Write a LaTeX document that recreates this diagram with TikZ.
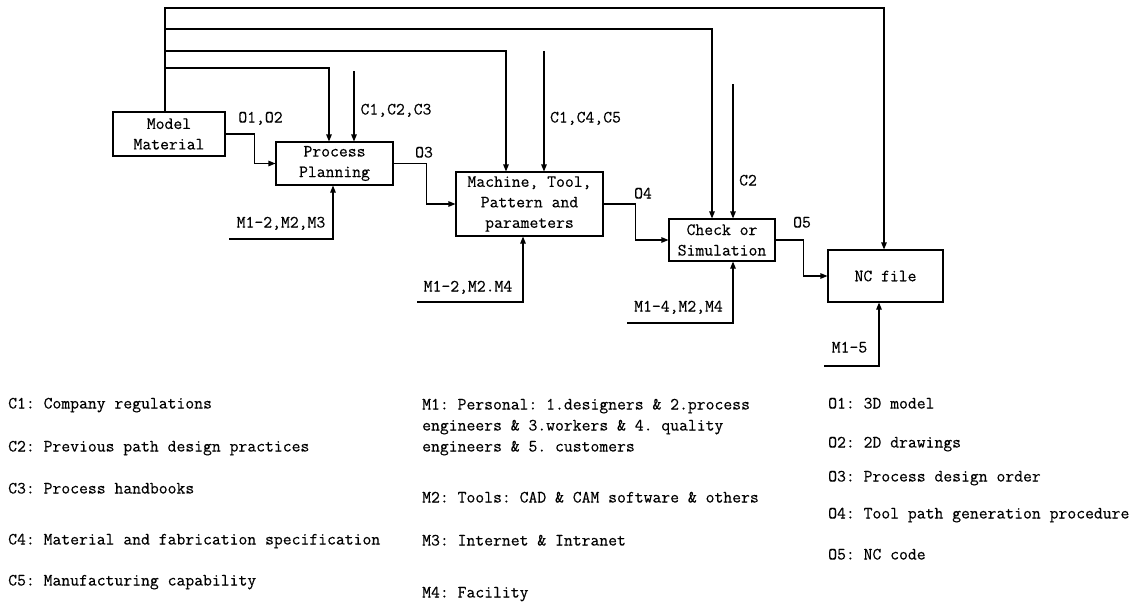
\documentclass[tikz,border=0pt]{standalone}
\usepackage{fontspec}
\setmonofont{Latin Modern Mono}[FakeBold=0.35]
\usetikzlibrary{arrows.meta}
\frenchspacing
\begin{document}
\begin{tikzpicture}[x=1pt,y=-1pt,
  txt/.style={font=\fontsize{17.2}{20.5}\selectfont\ttfamily},
  box/.style={txt,draw,line width=1.1pt,inner sep=0pt,align=center},
  arr/.style={line width=1.1pt,-{Triangle[length=7pt,width=5.5pt]}},
  lbl/.style={txt,inner sep=0pt,anchor=base},
  leg/.style={txt,inner sep=0pt,anchor=base west}]
\useasboundingbox (0,0) rectangle (1137,602);
% boxes
\node[box,minimum width=112pt,minimum height=44pt] (mm) at (169,134) {Model\\Material};
\node[box,minimum width=117pt,minimum height=43pt] (pp) at (334.5,163.5) {Process\\Planning};
\node[box,minimum width=147pt,minimum height=64pt] (mt) at (529.5,204) {Machine, Tool,\\Pattern and\\parameters};
\node[box,minimum width=106pt,minimum height=42pt] (ck) at (722,240) {Check or\\Simulation};
\node[box,minimum width=115pt,minimum height=52pt] (nc) at (885.5,276) {NC file};
% trunk and branches
\coordinate (t0) at (165,8);
\coordinate (b1) at (165,29);
\coordinate (b2) at (165,51);
\coordinate (b3) at (165,68);
\draw[arr] ([xshift=-4pt]mm.north) -- (t0) -| ([xshift=-1.5pt]nc.north);
\draw[arr] (b1) -| ([xshift=-10pt]ck.north);
\draw[arr] (b2) -| ([xshift=-23.5pt]mt.north);
\draw[arr] (b3) -| ([xshift=-5.5pt]pp.north);
% controls
\coordinate (c1) at (354,71);
\coordinate (c2) at (544,51);
\coordinate (c3) at (733,84);
\draw[arr] (c1) -- (c1 |- pp.north);
\draw[arr] (c2) -- (c2 |- mt.north);
\draw[arr] (c3) -- (c3 |- ck.north);
% mechanisms
\coordinate (m1) at (229,239);
\coordinate (m2) at (417,302);
\coordinate (m3) at (627,323);
\coordinate (m4) at (824,366);
\draw[arr] (m1) -| ([xshift=-1.5pt]pp.south);
\draw[arr] (m2) -| ([xshift=-6.5pt]mt.south);
\draw[arr] (m3) -| ([xshift=11pt]ck.south);
\draw[arr] (m4) -| ([xshift=-6.5pt]nc.south);
% flow
\draw[arr] (mm.east) -- ++(29,0) |- (pp.west);
\draw[arr] (pp.east) -- ++(33,0) |- (mt.west);
\draw[arr] (mt.east) -- ++(32,0) |- (ck.west);
\draw[arr] (ck.east) -- ++(28,0) |- (nc.west);
% labels
\node[lbl] (l1) at (260.5,122.5) {O1,O2};
\node[lbl] (l2) at (396,114.5) {C1,C2,C3};
\node[lbl] (l3) at (424,157.5) {O3};
\node[lbl] (l4) at (281,227.5) {M1-2,M2,M3};
\node[lbl] (l5) at (585.5,122.5) {C1,C4,C5};
\node[lbl] (l6) at (643,198.5) {O4};
\node[lbl] (l7) at (748,185.5) {C2};
\node[lbl] (l8) at (468,291.5) {M1-2,M2.M4};
\node[lbl] (l9) at (802,227.5) {O5};
\node[lbl] (l10) at (678.5,311.5) {M1-4,M2,M4};
\node[lbl] (l11) at (849.5,352.5) {M1-5};
% legend C
\node[leg] (g1) at (8,408.5) {C1: Company regulations};
\node[leg] (g2) at (8,451.5) {C2: Previous path design practices};
\node[leg] (g3) at (8,493.5) {C3: Process handbooks};
\node[leg] (g4) at (8,544.5) {C4: Material and fabrication specification};
\node[leg] (g5) at (8,585.5) {C5: Manufacturing capability};
% legend M
\node[leg] (h1) at (422,409.5) {M1: Personal: 1.designers \& 2.process};
\node[leg] (h1b) at (422,430.5) {engineers \& 3.workers \& 4. quality};
\node[leg] (h1c) at (422,451.5) {engineers \& 5. customers};
\node[leg] (h2) at (422,502.5) {M2: Tools: CAD \& CAM software \& others};
\node[leg] (h3) at (422,545.5) {M3: Internet \& Intranet};
\node[leg] (h4) at (422,597.5) {M4: Facility};
% legend O
\node[leg] (k1) at (828,408.5) {O1: 3D model};
\node[leg] (k2) at (828,447.5) {O2: 2D drawings};
\node[leg] (k3) at (828,481.5) {O3: Process design order};
\node[leg] (k4) at (828,518.5) {O4: Tool path generation procedure};
\node[leg] (k5) at (828,559.5) {O5: NC code};
\end{tikzpicture}
\end{document}
